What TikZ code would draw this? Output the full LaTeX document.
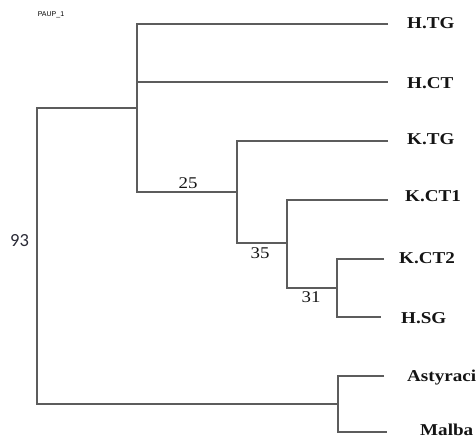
\documentclass[tikz,border=0pt]{standalone}
\usepackage{fontspec}
\setmainfont{Liberation Serif}
\newfontfamily\taxfont[FakeStretch=1.15]{Liberation Serif}
\newfontfamily\bootfont{Carlito}
\newfontfamily\tagfont{Liberation Sans}
\usepackage{tikz}
\usetikzlibrary{calc}
\definecolor{edge}{HTML}{5C5C5C}
\definecolor{ink}{HTML}{141414}
\definecolor{bootink}{HTML}{2A2A36}
\tikzset{
  branch/.style={draw=edge, line width=1.7pt},
  taxon/.style={anchor=base west, inner sep=0pt, text=ink, font=\taxfont\bfseries\fontsize{16.6}{18}\selectfont},
  boot/.style={inner sep=0pt, text=ink, font=\taxfont\fontsize{16.4}{18}\selectfont},
  bigboot/.style={inner sep=0pt, text=bootink, font=\bootfont\fontsize{18.5}{20}\selectfont},
  tag/.style={inner sep=0pt, text=black, font=\tagfont\fontsize{7}{8}\selectfont},
}

\begin{document}
\begin{tikzpicture}[x=1pt, y=-1pt]
\useasboundingbox (0,0) rectangle (476,439);
% internal nodes
\coordinate (root) at (37,256);
\coordinate (nH) at (137,108);
\coordinate (n25) at (237,192);
\coordinate (n35) at (287,243);
\coordinate (n31) at (337,288);
\coordinate (nOut) at (338,404);
% branch tips
\coordinate (tHTG) at (388,24);
\coordinate (tHCT) at (388,82);
\coordinate (tKTG) at (388,141);
\coordinate (tKCT1) at (388,200);
\coordinate (tKCT2) at (384,259);
\coordinate (tHSG) at (381,317);
\coordinate (tAst) at (384,376);
\coordinate (tMal) at (387,432);
% tree
\draw[branch] (nH) -| (root) |- (nOut);
\draw[branch] (tHTG) -| (nH) |- (n25);
\draw[branch] (nH |- tHCT) -- (tHCT);
\draw[branch] (tKTG) -| (n25) |- (n35);
\draw[branch] (tKCT1) -| (n35) |- (n31);
\draw[branch] (tKCT2) -| (n31) |- (tHSG);
\draw[branch] (tAst) -| (nOut) |- (tMal);
% taxa
\node[taxon] (lHTG) at (407,28) {H.TG};
\node[taxon] (lHCT) at (407,88) {H.CT};
\node[taxon] (lKTG) at (407,144) {K.TG};
\node[taxon] (lKCT1) at (405,201) {K.CT1};
\node[taxon] (lKCT2) at (399,263) {K.CT2};
\node[taxon] (lHSG) at (401,323) {H.SG};
\node[taxon] (lAst) at (407,381) {Astyraci};
\node[taxon] (lMal) at (420,435) {Malba};
% support values
\node[boot] (b25) at (188,183) {25};
\node[boot] (b35) at (260,253) {35};
\node[boot] (b31) at (311,297) {31};
\node[bigboot] (b93) at (19.5,241) {93};
\node[tag] (title) at (51,14.5) {PAUP\_1};
\end{tikzpicture}
\end{document}
